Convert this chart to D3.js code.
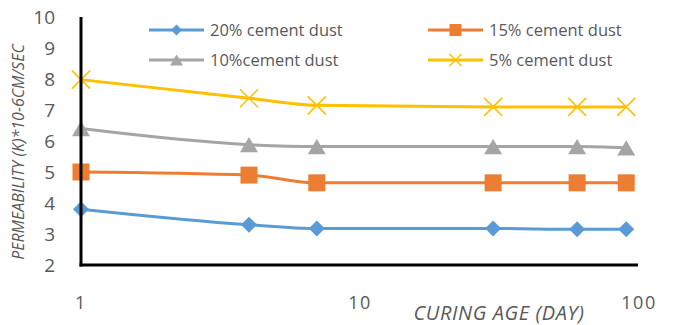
<!DOCTYPE html>
<html>
<head>
<meta charset="utf-8">
<script src="https://cdn.jsdelivr.net/npm/d3@7"></script>
<style>
  html, body { margin: 0; padding: 0; background: #fff; }
  svg { display: block; }
  text { font-family: "Open Sans", "Liberation Sans", sans-serif; fill: #595959; }
</style>
</head>
<body>
<svg id="chart" width="676" height="325"></svg>
<script>
// Curing age (days) and permeability values for each cement-dust mix
const days = [1, 4, 7, 30, 60, 90];
const dust20 = [3.8, 3.3, 3.18, 3.18, 3.15, 3.15];
const dust15 = [5.0, 4.9, 4.65, 4.65, 4.65, 4.65];
const dust10 = [6.4, 5.88, 5.82, 5.82, 5.82, 5.78];
const dust5  = [7.98, 7.38, 7.15, 7.1, 7.1, 7.1];
const seriesNames = ["20% cement dust", "15% cement dust", "10%cement dust", "5% cement dust"];
const xTicks = [1, 10, 100];
const yTicks = [2, 3, 4, 5, 6, 7, 8, 9, 10];

const series = [
  { name: seriesNames[0], values: dust20, color: "#5B9BD5", marker: "diamond" },
  { name: seriesNames[1], values: dust15, color: "#ED7D31", marker: "square" },
  { name: seriesNames[2], values: dust10, color: "#A5A5A5", marker: "triangle" },
  { name: seriesNames[3], values: dust5,  color: "#FFC000", marker: "cross" }
];

const svg = d3.select("#chart");
const plotLeft = 81, plotRight = 639, plotTop = 17, plotBottom = 265;

const x = d3.scaleLog().domain([1, 100]).range([plotLeft, plotRight]);
const y = d3.scaleLinear().domain([2, 10]).range([plotBottom, plotTop]);

// Y tick labels
svg.append("g").selectAll("text").data(yTicks).join("text")
  .attr("x", 55).attr("y", d => y(d)).attr("dy", "0.36em")
  .attr("text-anchor", "end").style("font-size", "19px")
  .text(d => d);

// X tick labels
svg.append("g").selectAll("text").data(xTicks).join("text")
  .attr("x", d => x(d)).attr("y", 303).attr("dy", "0.36em")
  .attr("text-anchor", "middle").style("font-size", "18px")
  .style("letter-spacing", "1.5px")
  .text(d => d);

// Axis titles
svg.append("text")
  .attr("transform", `translate(24,${152}) rotate(-90)`)
  .attr("text-anchor", "middle").style("font-size", "16px").style("font-style", "italic")
  .text("PERMEABILITY (K)*10-6CM/SEC");

svg.append("text")
  .attr("x", 499).attr("y", 320)
  .attr("text-anchor", "middle").style("font-size", "20px").style("font-style", "italic")
  .style("letter-spacing", "0.6px")
  .text("CURING AGE (DAY)");

// Smoothed series lines
const line = d3.line()
  .x((d, i) => x(days[i]))
  .y(d => y(d))
  .curve(d3.curveMonotoneX);

function marker(sel, type, color, s) {
  const h = s / 2;
  if (type === "diamond") {
    sel.append("path").attr("d", `M0,${-h}L${h},0L0,${h}L${-h},0Z`).attr("fill", color);
  } else if (type === "square") {
    sel.append("rect").attr("x", -h).attr("y", -h).attr("width", s).attr("height", s).attr("fill", color);
  } else if (type === "triangle") {
    sel.append("path").attr("d", `M0,${-h * 0.85}L${h},${h * 0.85}L${-h},${h * 0.85}Z`).attr("fill", color);
  } else if (type === "cross") {
    sel.append("path").attr("d", `M${-h},${-h}L${h},${h}M${-h},${h}L${h},${-h}`)
      .attr("stroke", color).attr("stroke-width", 1.5).attr("fill", "none");
  }
}

const sizes = { diamond: 16, square: 17, triangle: 18, cross: 18 };

series.forEach(s => {
  svg.append("path")
    .attr("d", line(s.values))
    .attr("fill", "none").attr("stroke", s.color).attr("stroke-width", 3);
  s.values.forEach((v, i) => {
    const g = svg.append("g").attr("transform", `translate(${x(days[i])},${y(v)})`);
    marker(g, s.marker, s.color, sizes[s.marker]);
  });
});

// Axis lines
svg.append("line").attr("x1", plotLeft).attr("x2", plotLeft).attr("y1", plotTop).attr("y2", plotBottom + 1.5)
  .attr("stroke", "#000").attr("stroke-width", 3);
svg.append("line").attr("x1", plotLeft - 1.5).attr("x2", 638).attr("y1", plotBottom).attr("y2", plotBottom)
  .attr("stroke", "#000").attr("stroke-width", 3);

// Legend
const legendPos = [[149, 30], [428, 30], [149, 60], [428, 60]];
const legendSizes = { diamond: 11, square: 12, triangle: 13, cross: 12 };
series.forEach((s, i) => {
  const [lx, ly] = legendPos[i];
  const g = svg.append("g").attr("transform", `translate(${lx},${ly})`);
  g.append("line").attr("x1", 0).attr("x2", 55).attr("y1", 0).attr("y2", 0)
    .attr("stroke", s.color).attr("stroke-width", 3);
  const m = g.append("g").attr("transform", "translate(27.5,0)");
  marker(m, s.marker, s.color, legendSizes[s.marker]);
  g.append("text").attr("x", 61).attr("y", 0).attr("dy", "0.36em")
    .style("font-size", "16.5px").text(s.name);
});
</script>
</body>
</html>
